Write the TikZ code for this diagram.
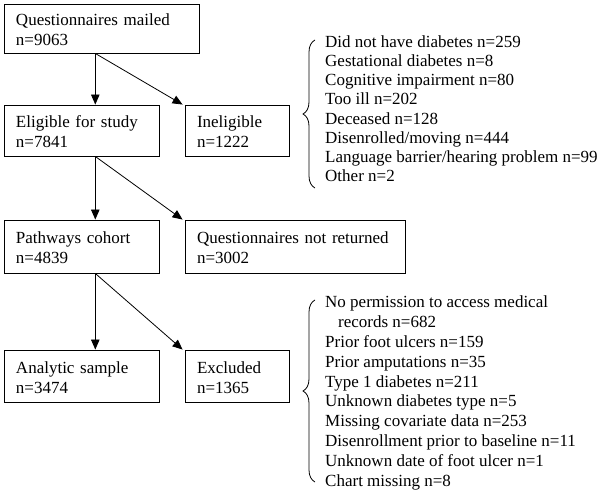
\documentclass[tikz,border=0pt]{standalone}
\usepackage{fontspec}
\setmainfont{Liberation Serif}
\usetikzlibrary{arrows.meta,decorations.pathreplacing,calc}
\newcommand{\tsr}{\rule{0pt}{14.5pt}}
\begin{document}
\begin{tikzpicture}[x=1pt,y=-1pt,
  box/.style={draw, line width=0.9pt, rectangle, inner xsep=12pt, inner ysep=0pt, align=left,
    font=\fontsize{17pt}{20pt}\selectfont},
  arr/.style={line width=0.8pt, -{Triangle[length=10pt,width=8.5pt]}},
  lst/.style={anchor=north west, inner sep=0pt, align=left},
  brc/.style={line width=0.8pt, decorate, decoration={brace, amplitude=12pt}}]
\useasboundingbox (0,0) rectangle (605,492);
\coordinate (xa) at (95.3,0);
\node[box, minimum width=195pt, minimum height=49pt, text width=171pt] (mail) at (101.5,28.5) {\tsr Questionnaires mailed\\n=9063};
\node[box, minimum width=155pt, minimum height=51pt, text width=131pt] (elig) at (81.5,130.5) {\tsr Eligible for study\\n=7841};
\node[box, minimum width=104pt, minimum height=51pt, text width=80pt] (inel) at (237,130.5) {\tsr Ineligible\\n=1222};
\node[box, minimum width=155pt, minimum height=53pt, text width=131pt] (path) at (81.5,246.5) {\tsr Pathways cohort\\n=4839};
\node[box, minimum width=220pt, minimum height=53pt, text width=196pt] (notr) at (295,246.5) {\tsr Questionnaires not returned\\n=3002};
\node[box, minimum width=155pt, minimum height=52pt, text width=131pt] (anal) at (81.5,376) {\tsr Analytic sample\\n=3474};
\node[box, minimum width=104pt, minimum height=52pt, text width=80pt] (excl) at (237,376) {\tsr Excluded\\n=1365};
\draw[arr] (mail.south -| xa) -- (elig.north -| xa);
\draw[arr] (mail.south -| xa) -- ($(inel.north west)+(-2,0)$);
\draw[arr] (elig.south -| xa) -- (path.north -| xa);
\draw[arr] (elig.south -| xa) -- ($(notr.north west)+(-2,0)$);
\draw[arr] (path.south -| xa) -- (anal.north -| xa);
\draw[arr] (path.south -| xa) -- ($(excl.north west)+(-2,0)$);
\node[lst, font=\fontsize{17pt}{19.15pt}\selectfont] (ilist) at (325,32.7) {\tsr Did not have diabetes n=259\\
Gestational diabetes n=8\\
Cognitive impairment n=80\\
Too ill n=202\\
Deceased n=128\\
Disenrolled/moving n=444\\
Language barrier/hearing problem n=99\\
Other n=2};
\node[lst, font=\fontsize{17pt}{19.9pt}\selectfont] (elist) at (325,292.7) {\tsr No permission to access medical\\
\hspace*{13pt}records n=682\\
Prior foot ulcers n=159\\
Prior amputations n=35\\
Type 1 diabetes n=211\\
Unknown diabetes type n=5\\
Missing covariate data n=253\\
Disenrollment prior to baseline n=11\\
Unknown date of foot ulcer n=1\\
Chart missing n=8};
\draw[brc] (ilist.west |- 0,188) ++(-10,0) coordinate (b1s) -- (b1s |- 0,40);
\draw[brc] (elist.west |- 0,482) ++(-10,0) coordinate (b2s) -- (b2s |- 0,300);
\end{tikzpicture}
\end{document}
